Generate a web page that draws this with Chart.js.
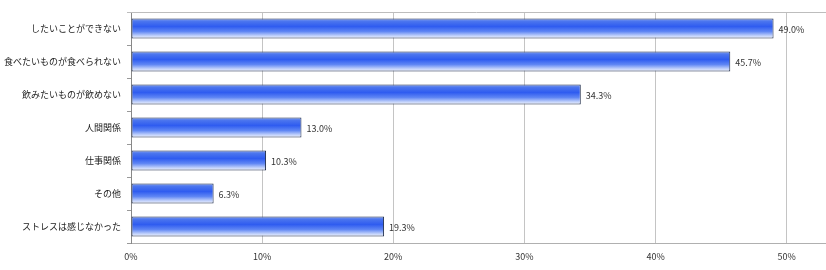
<!DOCTYPE html>
<html>
<head>
<meta charset="utf-8">
<script src="https://cdn.jsdelivr.net/npm/chart.js@4"></script>
<style>
  html, body { margin: 0; padding: 0; background: #fff; }
  #wrap { width: 826px; height: 270px; }
</style>
</head>
<body>
<div id="wrap"><canvas id="c" width="826" height="270"></canvas></div>
<script>
// データ
const categories = [
  "したいことができない",
  "食べたいものが食べられない",
  "飲みたいものが飲めない",
  "人間関係",
  "仕事関係",
  "その他",
  "ストレスは感じなかった"
];
const values = [49.0, 45.7, 34.3, 13.0, 10.3, 6.3, 19.3];
const xTicks = [0, 10, 20, 30, 40, 50];

const FONT = "'Noto Sans CJK JP', 'Noto Sans', sans-serif";
const BAR_PCT = 0.6;

// バーごとの縦グラデーション
function barGradient(context) {
  const chart = context.chart;
  const yScale = chart.scales.y;
  if (!chart.chartArea || !yScale) return "#3366ee";
  const band = (yScale.bottom - yScale.top) / categories.length;
  const center = yScale.getPixelForValue(context.dataIndex);
  const top = center - band * BAR_PCT / 2;
  const bottom = center + band * BAR_PCT / 2;
  const g = chart.ctx.createLinearGradient(0, top, 0, bottom);
  g.addColorStop(0, "#7f9ef0");
  g.addColorStop(0.15, "#4a74ee");
  g.addColorStop(0.4, "#2f5cf0");
  g.addColorStop(0.65, "#5f86f4");
  g.addColorStop(0.85, "#b9cbfa");
  g.addColorStop(1, "#f2f5ff");
  return g;
}

// 上の枠線と値ラベル
const extras = {
  id: "extras",
  beforeDatasetsDraw(chart) {
    const ctx = chart.ctx;
    const a = chart.chartArea;
    ctx.save();
    ctx.strokeStyle = "#bdbdbd";
    ctx.lineWidth = 1;
    ctx.beginPath();
    ctx.moveTo(a.left - 4, a.top + 0.5);
    ctx.lineTo(a.right, a.top + 0.5);
    ctx.stroke();
    ctx.restore();
  },
  afterDatasetsDraw(chart) {
    const ctx = chart.ctx;
    ctx.save();
    ctx.font = "9px " + FONT;
    ctx.fillStyle = "#333";
    ctx.textBaseline = "middle";
    ctx.textAlign = "left";
    chart.getDatasetMeta(0).data.forEach((bar, i) => {
      ctx.fillText(values[i].toFixed(1) + "%", bar.x + 5, bar.y + 1);
    });
    ctx.restore();
  }
};

new Chart(document.getElementById("c").getContext("2d"), {
  type: "bar",
  data: {
    labels: categories,
    datasets: [{
      data: values,
      backgroundColor: barGradient,
      borderColor: "#1c2a48",
      borderWidth: 1,
      borderSkipped: false,
      barPercentage: BAR_PCT,
      categoryPercentage: 1
    }]
  },
  options: {
    indexAxis: "y",
    responsive: false,
    animation: false,
    layout: { padding: { top: 12, right: 0, bottom: 0, left: 0 } },
    plugins: {
      legend: { display: false },
      tooltip: { enabled: false }
    },
    scales: {
      x: {
        min: 0,
        max: 53,
        afterBuildTicks: (scale) => {
          scale.ticks = xTicks.map((v) => ({ value: v }));
        },
        afterFit: (scale) => { scale.height = 27; },
        grid: { color: "#c4c4c4", drawTicks: false },
        border: { color: "#b0b0b0" },
        ticks: {
          padding: 8,
          color: "#333",
          font: { family: FONT, size: 9 },
          callback: (v) => v + "%"
        }
      },
      y: {
        afterFit: (scale) => { scale.width = 131; },
        grid: { offset: true, drawOnChartArea: false, tickLength: 4, color: "#999" },
        border: { color: "#888" },
        ticks: {
          padding: 6,
          color: "#222",
          font: { family: FONT, size: 9 }
        }
      }
    }
  },
  plugins: [extras]
});
</script>
</body>
</html>
